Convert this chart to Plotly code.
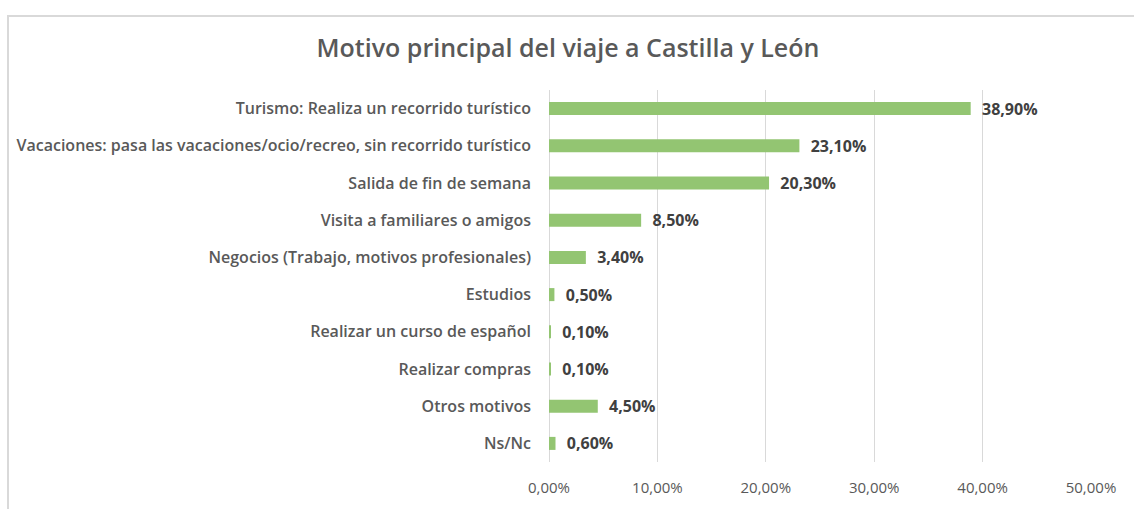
import plotly.graph_objects as go

categories = [
    "Turismo: Realiza un recorrido turístico",
    "Vacaciones: pasa las vacaciones/ocio/recreo, sin recorrido turístico",
    "Salida de fin de semana",
    "Visita a familiares o amigos",
    "Negocios (Trabajo, motivos profesionales)",
    "Estudios",
    "Realizar un curso de español",
    "Realizar compras",
    "Otros motivos",
    "Ns/Nc",
]
values = [38.9, 23.1, 20.3, 8.5, 3.4, 0.5, 0.1, 0.1, 4.5, 0.6]
tick_vals = [0, 10, 20, 30, 40, 50]
tick_labels = ["0,00%", "10,00%", "20,00%", "30,00%", "40,00%", "50,00%"]
title_text = "Motivo principal del viaje a Castilla y León"

W, H = 1134, 509
L, R = 549, W - 1091
T, B = 90, H - 472
pw, ph = W - L - R, H - T - B

fig = go.Figure(go.Bar(
    x=values,
    y=categories,
    orientation="h",
    marker=dict(color="#93c572", line=dict(width=0)),
    width=0.35,
    texttemplate="  %{x:.2f}%",
    textposition="outside",
    constraintext="none",
    cliponaxis=False,
    textfont=dict(family="Open Sans", size=16, color="#404040", weight="bold"),
))

fig.update_layout(
    width=W, height=H,
    margin=dict(l=L, r=R, t=T, b=B),
    paper_bgcolor="white",
    plot_bgcolor="white",
    separators=",.",
    showlegend=False,
    title=dict(
        text=title_text,
        x=568 / W, xref="container", xanchor="center",
        y=1 - 48 / H, yref="container", yanchor="middle",
        font=dict(family="Open Sans", size=25, color="#595959", weight=600),
    ),
    xaxis=dict(
        range=[0, 50],
        tickvals=tick_vals,
        ticktext=tick_labels,
        showgrid=True,
        gridcolor="#d9d9d9",
        gridwidth=1,
        zeroline=True,
        zerolinecolor="#d9d9d9",
        zerolinewidth=1,
        showline=False,
        ticks="",
        ticklabelstandoff=15,
        tickfont=dict(family="Open Sans", size=15, color="#595959"),
        fixedrange=True,
    ),
    yaxis=dict(
        autorange="reversed",
        showgrid=False,
        showline=False,
        ticks="",
        ticklabelstandoff=17,
        tickfont=dict(family="Open Sans", size=16, color="#595959", weight=600),
    ),
    shapes=[dict(
        type="rect", xref="paper", yref="paper",
        x0=(8 - L) / pw, x1=(W + 20 - L) / pw,
        y0=-(B + 20) / ph, y1=(H - B - 14) / ph,
        line=dict(color="#d9d9d9", width=2),
        fillcolor="rgba(0,0,0,0)",
        layer="below",
    )],
)

fig.write_html(
    "out.html",
    config={"displayModeBar": False},
    post_script="document.body.style.margin='0px';document.body.style.overflow='hidden';",
)
